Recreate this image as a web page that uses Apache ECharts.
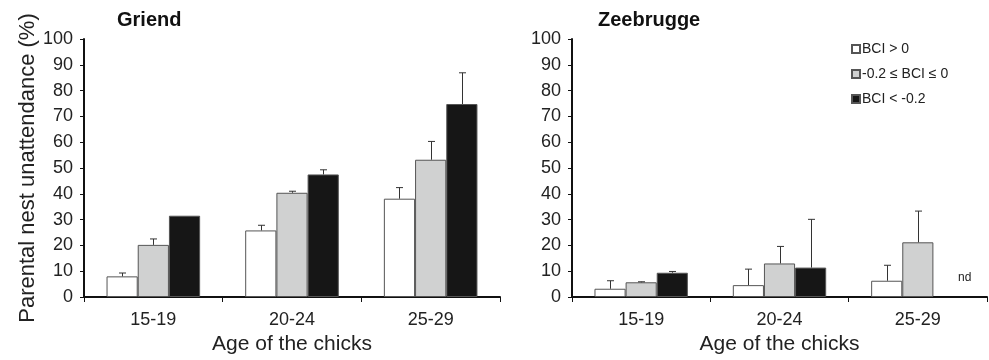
<!DOCTYPE html>
<html><head><meta charset="utf-8">
<script src="https://cdn.jsdelivr.net/npm/echarts@6/dist/echarts.min.js"></script>
<style>html,body{margin:0;padding:0;background:#fff}#c{width:989px;height:360px}</style>
</head><body><div id="c"></div>
<script>
const categories = ['15-19', '20-24', '25-29'];
const seriesNames = ['BCI > 0', '-0.2 \u2264 BCI \u2264 0', 'BCI < -0.2'];
const yTicks = [0, 100, 10];
// Griend means and standard errors
const griendHigh = [8.0, 25.8, 38.1];
const griendHighSE = [1.3, 2.0, 4.3];
const griendMid = [20.2, 40.4, 53.2];
const griendMidSE = [2.3, 0.6, 7.1];
const griendLow = [31.5, 47.5, 74.8];
const griendLowSE = [0, 1.8, 12.1];
// Zeebrugge means and standard errors (nd = no data)
const zeeHigh = [3.2, 4.6, 6.3];
const zeeHighSE = [3.1, 6.2, 6.0];
const zeeMid = [5.7, 13.0, 21.2];
const zeeMidSE = [0.2, 6.6, 12.1];
const zeeLow = [9.4, 11.4, null];
const zeeLowSE = [0.5, 18.7, null];

const FONT = 'Liberation Sans, Arial, sans-serif';
const colors = ['#ffffff', '#d0d1d1', '#161616'];
const BW = 0.225;

function barSeries(name, data, idx, gi) {
  return {
    type: 'bar', name: name, data: data, xAxisIndex: gi, yAxisIndex: gi,
    barWidth: (BW * 100) + '%', barGap: '0%',
    itemStyle: { color: colors[idx], borderColor: '#555', borderWidth: 1 },
    z: 2
  };
}
function errSeries(means, ses, idx, gi) {
  const d = [];
  means.forEach((m, i) => { if (m != null && ses[i]) d.push([i, m, m + ses[i]]); });
  return {
    type: 'custom', xAxisIndex: gi, yAxisIndex: gi, z: 3, silent: true,
    data: d,
    renderItem: function (params, api) {
      const band = api.size([1, 0])[0];
      const off = (idx - 1) * band * BW;
      const p0 = api.coord([api.value(0), api.value(1)]);
      const p1 = api.coord([api.value(0), api.value(2)]);
      const x = Math.round(p0[0] + off) + 0.5;
      const st = { stroke: '#333', lineWidth: 1 };
      return { type: 'group', children: [
        { type: 'line', shape: { x1: x, y1: p0[1], x2: x, y2: p1[1] }, style: st },
        { type: 'line', shape: { x1: x - 3.5, y1: p1[1], x2: x + 3.5, y2: p1[1] }, style: st }
      ]};
    }
  };
}
function xAxis(gi) {
  return {
    type: 'category', gridIndex: gi, data: categories,
    name: 'Age of the chicks', nameLocation: 'middle', nameGap: 37,
    nameTextStyle: { fontFamily: FONT, fontSize: 21, color: '#222' },
    axisLine: { lineStyle: { color: '#111', width: 2 } },
    axisTick: { show: true, length: 5, lineStyle: { color: '#111', width: 1 } },
    axisLabel: { fontFamily: FONT, fontSize: 18, color: '#222', margin: 14 }
  };
}
function yAxis(gi, name) {
  return {
    type: 'value', gridIndex: gi, min: yTicks[0], max: yTicks[1], interval: yTicks[2],
    name: name, nameLocation: 'middle', nameGap: 44,
    nameTextStyle: { fontFamily: FONT, fontSize: 22, color: '#222' },
    splitLine: { show: false },
    axisLine: { show: true, lineStyle: { color: '#111', width: 2 } },
    axisTick: { show: true, length: 4, lineStyle: { color: '#111', width: 1 } },
    axisLabel: { fontFamily: FONT, fontSize: 18, color: '#222', margin: 11 }
  };
}

const chart = echarts.init(document.getElementById('c'), null, { renderer: 'canvas' });
chart.setOption({
  animation: false,
  backgroundColor: '#fff',
  title: [
    { text: 'Griend', left: 112, top: 5, textStyle: { fontFamily: FONT, fontSize: 20, fontWeight: 'bold', color: '#111' } },
    { text: 'Zeebrugge', left: 593, top: 5, textStyle: { fontFamily: FONT, fontSize: 20, fontWeight: 'bold', color: '#111' } }
  ],
  legend: {
    data: seriesNames, orient: 'vertical', left: 846, top: 37,
    itemWidth: 8, itemHeight: 8, itemGap: 11, icon: 'rect',
    textStyle: { fontFamily: FONT, fontSize: 14, color: '#222', padding: [0, 0, 0, -3] }
  },
  grid: [
    { left: 84, right: 489, top: 39, bottom: 62 },
    { left: 572, right: 2, top: 39, bottom: 63 }
  ],
  xAxis: [xAxis(0), xAxis(1)],
  yAxis: [yAxis(0, 'Parental nest unattendance (%)'), yAxis(1, '')],
  graphic: [
    { type: 'text', left: 958, top: 272, style: { text: 'nd', font: '12px ' + FONT, fill: '#222' } }
  ],
  series: [
    barSeries(seriesNames[0], griendHigh, 0, 0),
    barSeries(seriesNames[1], griendMid, 1, 0),
    barSeries(seriesNames[2], griendLow, 2, 0),
    barSeries(seriesNames[0], zeeHigh, 0, 1),
    barSeries(seriesNames[1], zeeMid, 1, 1),
    barSeries(seriesNames[2], zeeLow, 2, 1),
    errSeries(griendHigh, griendHighSE, 0, 0),
    errSeries(griendMid, griendMidSE, 1, 0),
    errSeries(griendLow, griendLowSE, 2, 0),
    errSeries(zeeHigh, zeeHighSE, 0, 1),
    errSeries(zeeMid, zeeMidSE, 1, 1),
    errSeries(zeeLow, zeeLowSE, 2, 1)
  ]
});
</script></body></html>
